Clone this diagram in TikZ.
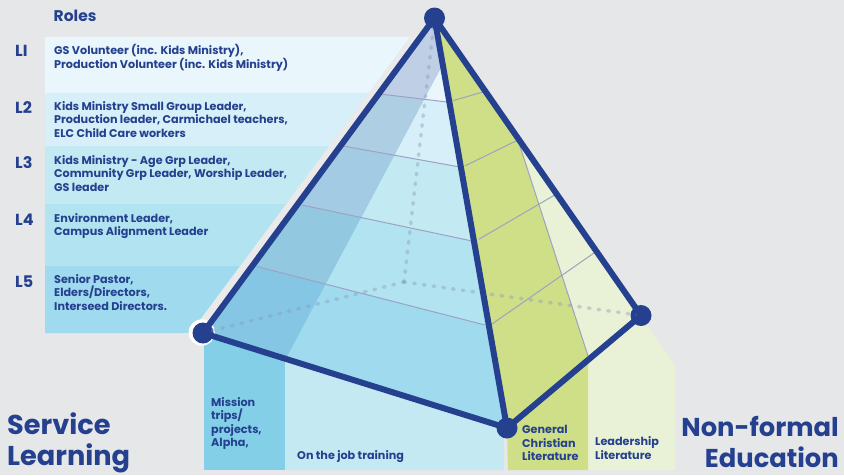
\documentclass[tikz,border=0pt]{standalone}
\usepackage{fontspec}
\setmainfont{Poppins}
\definecolor{bg}{HTML}{E6E7E9}
\definecolor{navy}{HTML}{24408E}
\definecolor{bA}{HTML}{E9F6FC}
\definecolor{bB}{HTML}{D6EFF8}
\definecolor{bC}{HTML}{C3E9F3}
\definecolor{bD}{HTML}{B1E3F1}
\definecolor{bE}{HTML}{9FDAEE}
\definecolor{dA}{HTML}{BFCFE6}
\definecolor{dB}{HTML}{AECFE3}
\definecolor{dC}{HTML}{A3CBE3}
\definecolor{dD}{HTML}{93C8E1}
\definecolor{dE}{HTML}{84C6E3}
\definecolor{mis}{HTML}{82CFE7}
\definecolor{job}{HTML}{C5E9F3}
\definecolor{grn}{HTML}{CEDF87}
\definecolor{pale}{HTML}{E9F2D6}
\definecolor{gridc}{HTML}{9CA3C2}
\definecolor{strip}{HTML}{EAEAEA}
\definecolor{dotc}{HTML}{8C9AB8}
\tikzset{
  vertex/.style={circle,fill=navy,minimum size=21pt,inner sep=0pt},
  edge/.style={draw=navy,line width=6pt,line cap=round},
  hidden/.style={draw=dotc,opacity=.42,line width=3.6pt,line cap=round,dash pattern=on 1.6pt off 8.2pt},
  grid/.style={draw=gridc,line width=1pt},
  txt/.style={anchor=west,inner sep=0pt,align=left,text=navy,font=\fontsize{11.2}{13.5}\selectfont\bfseries},
  lvl/.style={anchor=west,inner sep=0pt,text=navy,font=\fontsize{16}{18}\selectfont\bfseries},
  big/.style={inner sep=0pt,text=navy,font=\fontsize{27.2}{30.5}\selectfont\bfseries}
}
\begin{document}
\begin{tikzpicture}[x=1pt,y=-1pt]
\useasboundingbox (0,0) rectangle (844,475);
\fill[bg] (0,0) rectangle (844,475);
% vertices positions
\coordinate (Tp) at (434.5,18);
\coordinate (Lf) at (203,333);
\coordinate (Fr) at (507,428);
\coordinate (Rt) at (641,315.5);
\coordinate (Bk) at (404,282);
% lower panels
\fill[mis] (204,333) rectangle (285,470);
\fill[job] (285,340) rectangle (504,470);
\fill[grn] (508,420) rectangle (588,470);
\fill[pale] (518,140) -- (Rt) -- (648,327) -- (675,365) -- (675,470) -- (588,470) -- (588,356) -- cycle;
\fill[grn] (Tp) -- (518,140) -- (588,356) -- (588,470) -- (508,470) -- (Fr) -- cycle;
% role panels
\fill[strip] (423,30) -- (411,37) -- (190,333) -- (204,333) -- cycle;
\fill[bA] (45,37) -- (410,37) -- (368.5,93) -- (45,93) -- cycle;
\fill[bB] (45,93) -- (368.5,93) -- (329,146) -- (45,146) -- cycle;
\fill[bC] (45,146) -- (329,146) -- (286,204) -- (45,204) -- cycle;
\fill[bD] (45,204) -- (286,204) -- (240,266) -- (45,266) -- cycle;
\fill[bE] (45,266) -- (240,266) -- (190,333) -- (45,333) -- cycle;
% left face bands
\fill[bE] (Tp) -- (Lf) -- (Fr) -- cycle;
\fill[bD] (Tp) -- (257,266.5) -- (485,325) -- cycle;
\fill[bC] (Tp) -- (302,205) -- (472,241) -- cycle;
\fill[bB] (Tp) -- (343,146) -- (460,167) -- cycle;
\fill[bA] (Tp) -- (380,94) -- (447,102) -- cycle;
% shaded strip of the left face
\begin{scope}
\clip (Tp) -- (Lf) -- (287,356.5) -- (441,67) -- cycle;
\fill[dE] (Tp) -- (Lf) -- (Fr) -- cycle;
\fill[dD] (Tp) -- (257,266.5) -- (485,325) -- cycle;
\fill[dC] (Tp) -- (302,205) -- (472,241) -- cycle;
\fill[dB] (Tp) -- (343,146) -- (460,167) -- cycle;
\fill[dA] (Tp) -- (380,94) -- (447,102) -- cycle;
\end{scope}
% level lines
\draw[grid] (380,94) -- (447,102);
\draw[grid] (343,146) -- (460,167);
\draw[grid] (302,205) -- (472,241);
\draw[grid] (257,266.5) -- (485,325);
\draw[grid] (452.7,100.7) -- (484,91.7);
\draw[grid] (464.7,166) -- (518,140);
\draw[grid] (478.7,239.3) -- (554.7,195);
\draw[grid] (492,324) -- (594,253);
\draw[grid] (518,140) -- (588,356);
% white halo
\fill[white] (201.8,332.5) circle (13.2pt);
% vertices
\node[vertex] (T) at (Tp) {};
\node[vertex] (L) at (Lf) {};
\node[vertex] (F) at (Fr) {};
\node[vertex] (R) at (Rt) {};
\coordinate (B) at (Bk);
% hidden edges
\draw[hidden] (B) -- (T.center);
\draw[hidden] (B) -- (L.center);
\draw[hidden] (B) -- (R.center);
% visible edges
\draw[edge] (T.center) -- (L.center);
\draw[edge] (T.center) -- (F.center);
\draw[edge] (T.center) -- (R.center);
\draw[edge] (L.center) -- (F.center);
\draw[edge] (F.center) -- (R.center);
% text
\node[anchor=west,inner sep=0pt,text=navy,font=\fontsize{15.5}{18}\selectfont\bfseries] (roles) at (53.5,16) {Roles};
\node[lvl] (l1) at (15,51) {LI};
\node[lvl] (l2) at (15,108) {L2};
\node[lvl] (l3) at (15,163) {L3};
\node[lvl] (l4) at (15,220) {L4};
\node[lvl] (l5) at (15,282) {L5};
\node[txt] (r1) at (54,58) {GS Volunteer (inc. Kids Ministry),\\Production Volunteer (inc. Kids Ministry)};
\node[txt] (r2) at (54,119.5) {Kids Ministry Small Group Leader,\\Production leader, Carmichael teachers,\\ELC Child Care workers};
\node[txt] (r3) at (54,173.5) {Kids Ministry - Age Grp Leader,\\Community Grp Leader, Worship Leader,\\GS leader};
\node[txt] (r4) at (54,226) {Environment Leader,\\Campus Alignment Leader};
\node[txt] (r5) at (54,292.5) {Senior Pastor,\\Elders/Directors,\\Interseed Directors.};
\node[txt] (m) at (211,423.5) {Mission\\trips/\\projects,\\Alpha,};
\node[txt] (o) at (297,457) {On the job training};
\node[txt] (g) at (522,443) {General\\Christian\\Literature};
\node[txt] (ll) at (595,448) {Leadership\\Literature};
\node[big,anchor=west,align=left] (sl) at (7,443) {Service\\Learning};
\node[big,anchor=east,align=right,font=\fontsize{25.8}{30.5}\selectfont\bfseries] (nf) at (839,442) {Non-formal\\Education};
\end{tikzpicture}
\end{document}
